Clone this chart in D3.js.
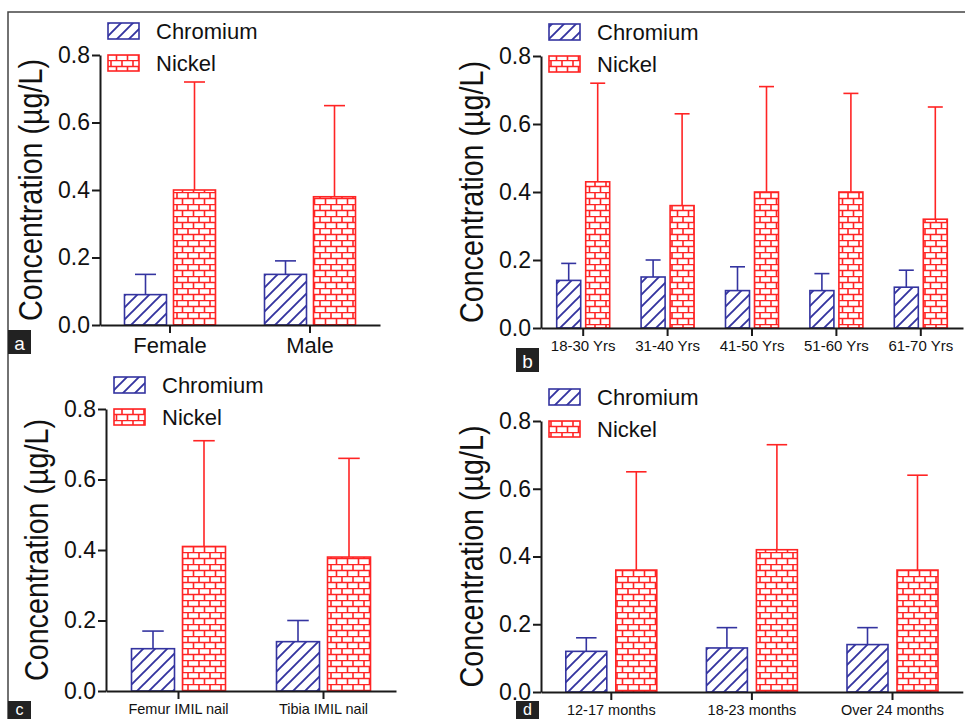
<!DOCTYPE html>
<html>
<head>
<meta charset="utf-8">
<script src="https://cdn.jsdelivr.net/npm/d3@7"></script>
<style>
body { margin: 0; background: #fff; }
svg { display: block; font-family: "Liberation Sans", Arial, sans-serif; }
</style>
</head>
<body>
<div id="content"></div>
<script>
var series = ["Chromium", "Nickel"];
var yTicks = [0, 0.2, 0.4, 0.6, 0.8];

// a - gender
var genderCats = ["Female", "Male"];
var genderCr = [0.09, 0.15];
var genderCrSd = [0.06, 0.04];
var genderNi = [0.40, 0.38];
var genderNiSd = [0.32, 0.27];

// b - age group
var ageCats = ["18-30 Yrs", "31-40 Yrs", "41-50 Yrs", "51-60 Yrs", "61-70 Yrs"];
var ageCr = [0.14, 0.15, 0.11, 0.11, 0.12];
var ageCrSd = [0.05, 0.05, 0.07, 0.05, 0.05];
var ageNi = [0.43, 0.36, 0.40, 0.40, 0.32];
var ageNiSd = [0.29, 0.27, 0.31, 0.29, 0.33];

// c - implant
var nailCats = ["Femur IMIL nail", "Tibia IMIL nail"];
var nailCr = [0.12, 0.14];
var nailCrSd = [0.05, 0.06];
var nailNi = [0.41, 0.38];
var nailNiSd = [0.30, 0.28];

// d - time since implant
var timeCats = ["12-17 months", "18-23 months", "Over 24 months"];
var timeCr = [0.12, 0.13, 0.14];
var timeCrSd = [0.04, 0.06, 0.05];
var timeNi = [0.36, 0.42, 0.36];
var timeNiSd = [0.29, 0.31, 0.28];

var colors = {Chromium: "#3434a0", Nickel: "#ff2424"};
var fills = {Chromium: "url(#hatch)", Nickel: "url(#brick)"};

// layout of the four panels
var panels = [
	{label: "a", cats: genderCats, cr: genderCr, crSd: genderCrSd, ni: genderNi, niSd: genderNiSd,
		x0: 100, step: 140, y0: 325, yTop: 55, barW: 42, gap: 7, fs: 22, pad: 4, lx: 8, ly: 330, lh: 24},
	{label: "b", cats: ageCats, cr: ageCr, crSd: ageCrSd, ni: ageNi, niSd: ageNiSd,
		x0: 541, step: 84.4, y0: 328, yTop: 56, barW: 24, gap: 5, fs: 15, pad: 4, lx: 516, ly: 348, lh: 24},
	{label: "c", cats: nailCats, cr: nailCr, crSd: nailCrSd, ni: nailNi, niSd: nailNiSd,
		x0: 106, step: 145, y0: 691, yTop: 409, barW: 43, gap: 8, fs: 14.5, pad: 5, lx: 8, ly: 701, lh: 18},
	{label: "d", cats: timeCats, cr: timeCr, crSd: timeCrSd, ni: timeNi, niSd: timeNiSd,
		x0: 541, step: 140.6, y0: 692, yTop: 421, barW: 41, gap: 9, fs: 14.5, pad: 5, lx: 516, ly: 701, lh: 18}
];

var svg = d3.select("#content").append("svg")
	.attr("width", 965).attr("height", 719);

svg.append("rect").attr("width", 965).attr("height", 719).style("fill", "#fff");

var defs = svg.append("defs");

var hatch = defs.append("pattern").attr("id", "hatch")
	.attr("patternUnits", "userSpaceOnUse").attr("width", 12).attr("height", 12);
hatch.append("rect").attr("width", 12).attr("height", 12).style("fill", "#fff");
hatch.append("path")
	.attr("d", "M0,12 L12,0 M-3,3 L3,-3 M9,15 L15,9")
	.style("stroke", colors.Chromium).style("stroke-width", 1.9);

var brick = defs.append("pattern").attr("id", "brick")
	.attr("patternUnits", "userSpaceOnUse").attr("width", 11).attr("height", 12);
brick.append("rect").attr("width", 11).attr("height", 12).style("fill", "#fff");
brick.append("path")
	.attr("d", "M0,0.5 H11 M0,6.5 H11 M1,0.5 V6.5 M6.5,6.5 V12.5")
	.style("stroke", colors.Nickel).style("stroke-width", 1.6).style("fill", "none");

// outer frame
svg.append("path").attr("d", "M8,719 V12 H965")
	.style("fill", "none").style("stroke", "#444").style("stroke-width", 1.5);

panels.forEach(drawPanel);

function drawPanel(p) {
	var y = d3.scaleLinear().domain([0, 0.8]).range([p.y0, p.yTop]);
	var x = d3.scaleBand().domain(p.cats).range([p.x0, p.x0 + p.step * p.cats.length]);
	var groupW = 2 * p.barW + p.gap;
	var xs = d3.scaleBand().domain(series).range([-groupW / 2, groupW / 2])
		.paddingInner(p.gap / (p.barW + p.gap));

	var rows = [];
	p.cats.forEach(function (c, i) {
		rows.push({cat: c, s: "Chromium", v: p.cr[i], sd: p.crSd[i]});
		rows.push({cat: c, s: "Nickel", v: p.ni[i], sd: p.niSd[i]});
	});

	var g = svg.append("g").attr("class", "panel-" + p.label);

	// error bars (upper only)
	var capW = Math.max(p.barW / 2, 15);
	rows.forEach(function (d) {
		var cx = x(d.cat) + x.bandwidth() / 2 + xs(d.s) + xs.bandwidth() / 2;
		g.append("line").attr("x1", cx).attr("x2", cx)
			.attr("y1", y(d.v)).attr("y2", y(d.v + d.sd))
			.style("stroke", colors[d.s]).style("stroke-width", 1.6);
		g.append("line").attr("x1", cx - capW / 2).attr("x2", cx + capW / 2)
			.attr("y1", y(d.v + d.sd)).attr("y2", y(d.v + d.sd))
			.style("stroke", colors[d.s]).style("stroke-width", 1.6);
	});

	g.selectAll("rect.bar").data(rows).enter().append("rect")
		.attr("class", "bar")
		.attr("x", function (d) { return x(d.cat) + x.bandwidth() / 2 + xs(d.s); })
		.attr("y", function (d) { return y(d.v); })
		.attr("width", xs.bandwidth())
		.attr("height", function (d) { return y(0) - y(d.v); })
		.style("fill", function (d) { return fills[d.s]; })
		.style("stroke", function (d) { return colors[d.s]; })
		.style("stroke-width", 1.6);

	// y axis
	var ya = g.append("g").attr("transform", "translate(" + p.x0 + ",0)")
		.call(d3.axisLeft(y).tickValues(yTicks).tickFormat(d3.format(".1f"))
			.tickSize(8).tickSizeOuter(0).tickPadding(2));
	ya.selectAll("text").style("font-size", "23px").style("fill", "#111");

	// x axis
	var xa = g.append("g").attr("transform", "translate(0," + p.y0 + ")")
		.call(d3.axisBottom(x).tickSize(8).tickSizeOuter(0).tickPadding(p.pad));
	xa.selectAll("text").style("font-size", p.fs + "px").style("fill", "#111");

	[ya, xa].forEach(function (a) {
		a.select(".domain").style("stroke", "#1a1a1a").style("stroke-width", 2);
		a.selectAll(".tick line").style("stroke", "#1a1a1a").style("stroke-width", 2);
	});

	// y title
	g.append("text")
		.attr("transform", "translate(" + (p.x0 - 70) + "," + ((p.y0 + p.yTop) / 2) + ") rotate(-90)")
		.attr("text-anchor", "middle").attr("dy", "0.36em")
		.attr("textLength", 262).attr("lengthAdjust", "spacingAndGlyphs")
		.style("font-size", "34px").style("fill", "#111")
		.text("Concentration (\u00b5g/L)");

	// legend
	series.forEach(function (s, i) {
		var ly = p.yTop - 32 + i * 32;
		g.append("rect").attr("x", p.x0 + 8).attr("y", ly).attr("width", 31).attr("height", 16)
			.style("fill", fills[s]).style("stroke", colors[s]).style("stroke-width", 1.6);
		g.append("text").attr("x", p.x0 + 56).attr("y", ly + 8).attr("dy", "0.36em")
			.style("font-size", "22px").style("fill", "#111").text(s);
	});

	// panel letter
	g.append("rect").attr("x", p.lx).attr("y", p.ly).attr("width", 23).attr("height", p.lh)
		.style("fill", "#222");
	g.append("text").attr("x", p.lx + 11.5).attr("y", p.ly + p.lh - 4)
		.attr("text-anchor", "middle").style("font-size", p.lh < 20 ? "16px" : "19px").style("fill", "#fff")
		.text(p.label);
}
</script>
</body>
</html>
